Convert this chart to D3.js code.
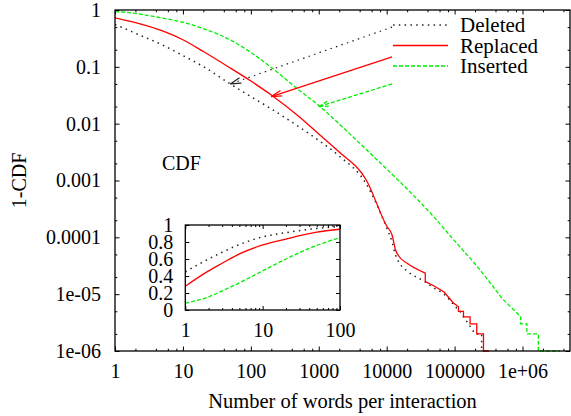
<!DOCTYPE html>
<html>
<head>
<meta charset="utf-8">
<script src="https://cdn.jsdelivr.net/npm/d3@7"></script>
<style>
  body { margin: 0; background: #fff; }
  svg { display: block; }
  text { font-family: "Liberation Serif", "Times New Roman", serif; font-size: 20px; fill: #000; }
</style>
</head>
<body>
<svg id="chart" width="571" height="416"></svg>
<script>
// 1-CDF, main plot: smooth part, then the stepped tail
const deletedX = [1, 2, 5, 10, 20, 50, 100, 200, 500, 1000, 2000, 5000, 10000, 12000, 13500, 15000,
    20000, 37000, 50000, 70000, 100000];
const deletedY = [0.556, 0.39, 0.242, 0.158, 0.101, 0.0499, 0.0301, 0.0182, 0.00895, 0.00506, 0.0027,
    8.7e-4, 1.46e-4, 8.3e-5, 4.9e-5, 3.7e-5, 2.56e-5, 1.64e-5, 1.28e-5, 1.0e-5, 6.2e-6];
const deletedTailX = [120000, 135000, 160000, 200000, 250000, 250000];
const deletedTailY = [5e-6, 4e-6, 3e-6, 2e-6, 2e-6, 1e-6];

const replacedX = [1, 2, 5, 10, 20, 50, 100, 200, 500, 1000, 2000, 5000, 10000, 12000, 13500, 15000,
    20000, 37000];
const replacedY = [0.73, 0.60, 0.43, 0.30, 0.186, 0.095, 0.0563, 0.0319, 0.0136, 0.00658, 0.00317,
    0.00102, 1.58e-4, 1.1e-4, 6e-5, 4.7e-5, 3.5e-5, 2.35e-5];
const replacedTailX = [37000, 50000, 70000, 96000, 114000, 114000, 135000, 135000, 169000, 169000,
    212000, 212000, 266000, 266000, 320000];
const replacedTailY = [1.66e-5, 1.39e-5, 1.09e-5, 7e-6, 6e-6, 5e-6, 5e-6, 4e-6, 4e-6, 3e-6,
    3e-6, 2e-6, 2e-6, 1e-6, 1e-6];

const insertedX = [1, 2, 5, 10, 20, 50, 100, 200, 500, 1000, 2000, 5000, 10000, 20000, 50000,
    100000, 200000, 500000];
const insertedY = [0.945, 0.87, 0.72, 0.61, 0.47, 0.297, 0.179, 0.0973, 0.0399, 0.0209, 0.00986,
    0.00351, 0.00159, 7.1e-4, 2.25e-4, 8.65e-5, 3.4e-5, 8.4e-6];
const insertedTailX = [780000, 940000, 940000, 1160000, 1160000, 1710000, 1710000, 3600000];
const insertedTailY = [5e-6, 4e-6, 3e-6, 3e-6, 2e-6, 2e-6, 1e-6, 1e-6];

// CDF, inset
const insetX = [1, 2, 3, 5, 10, 20, 50, 100];
const insetDeleted = [0.45, 0.60, 0.68, 0.77, 0.86, 0.91, 0.96, 0.98];
const insetReplaced = [0.28, 0.46, 0.55, 0.66, 0.765, 0.835, 0.915, 0.95];
const insetInserted = [0.08, 0.155, 0.225, 0.32, 0.46, 0.60, 0.76, 0.85];

// tick labels
const xTicks = [1, 10, 100, 1000, 10000, 100000, 1000000];
const xTickLabels = ['1', '10', '100', '1000', '10000', '100000', '1e+06'];
const yTicks = [1e-6, 1e-5, 1e-4, 1e-3, 1e-2, 1e-1, 1];
const yTickLabels = ['1e-06', '1e-05', '0.0001', '0.001', '0.01', '0.1', '1'];
const insetXTicks = [1, 10, 100];
const insetYTicks = [0, 0.2, 0.4, 0.6, 0.8, 1];
const insetYTickLabels = ['0', '0.2', '0.4', '0.6', '0.8', '1'];

// arrows from the legend to the curves (data coords)
const arrowFrom = [[12000, 0.5], [12000, 0.15], [12000, 0.05]];
const arrowTo = [[50, 0.05], [200, 0.03], [1000, 0.02]];

const seriesNames = ['Deleted', 'Replaced', 'Inserted'];

const styles = [
    { color: '#222', width: 1.5, dash: '1.5,4.3' },
    { color: '#ff0000', width: 1.3, dash: null },
    { color: '#00ee00', width: 1.3, dash: '4,2' }
];

const svg = d3.select('#chart');

// main plot frame
const P = { left: 115, right: 570, top: 10, bottom: 351 };
const x = d3.scaleLog().domain([1, 5e6]).range([P.left, P.right]);
const y = d3.scaleLog().domain([1e-6, 1]).range([P.bottom, P.top]);

const minorOf = (lo, hi, mults) => {
    const out = [];
    for (let d = lo; d < hi; d *= 10) {
        mults.forEach(m => { if (d * m <= hi) out.push(d * m); });
    }
    return out;
};
const xMinor = minorOf(1, 5e6, [2, 4, 6, 8]);
const yMinor = minorOf(1e-6, 1, [2, 5]);

const styleAxis = g => {
    g.select('.domain').remove();
    g.selectAll('line').attr('stroke', '#000').attr('stroke-width', 1);
    g.selectAll('text').attr('font-family', '"Liberation Serif", serif').attr('font-size', 20);
};

// ticks, all four sides, pointing inward
svg.append('g').attr('transform', `translate(0,${P.bottom})`)
    .call(d3.axisBottom(x).tickValues(xTicks).tickFormat((d, i) => xTickLabels[i])
        .tickSizeInner(-4.5).tickSizeOuter(0).tickPadding(12.8))
    .call(styleAxis);
svg.append('g').attr('transform', `translate(0,${P.bottom})`)
    .call(d3.axisBottom(x).tickValues(xMinor).tickFormat('').tickSizeInner(-2.3).tickSizeOuter(0))
    .call(styleAxis);
svg.append('g').attr('transform', `translate(0,${P.top})`)
    .call(d3.axisTop(x).tickValues(xTicks).tickFormat('').tickSizeInner(-4.5).tickSizeOuter(0))
    .call(styleAxis);
svg.append('g').attr('transform', `translate(0,${P.top})`)
    .call(d3.axisTop(x).tickValues(xMinor).tickFormat('').tickSizeInner(-2.3).tickSizeOuter(0))
    .call(styleAxis);
svg.append('g').attr('transform', `translate(${P.left},0)`)
    .call(d3.axisLeft(y).tickValues(yTicks).tickFormat((d, i) => yTickLabels[i])
        .tickSizeInner(-4.5).tickSizeOuter(0).tickPadding(14))
    .call(styleAxis);
svg.append('g').attr('transform', `translate(${P.left},0)`)
    .call(d3.axisLeft(y).tickValues(yMinor).tickFormat('').tickSizeInner(-2.3).tickSizeOuter(0))
    .call(styleAxis);
svg.append('g').attr('transform', `translate(${P.right},0)`)
    .call(d3.axisRight(y).tickValues(yTicks).tickFormat('').tickSizeInner(-4.5).tickSizeOuter(0))
    .call(styleAxis);
svg.append('g').attr('transform', `translate(${P.right},0)`)
    .call(d3.axisRight(y).tickValues(yMinor).tickFormat('').tickSizeInner(-2.3).tickSizeOuter(0))
    .call(styleAxis);

svg.append('clipPath').attr('id', 'clipMain')
    .append('rect').attr('x', P.left).attr('y', P.top - 1)
    .attr('width', P.right - P.left).attr('height', P.bottom - P.top + 2);

// smooth part through monotone curve, tail as straight steps, one path
const smoothLine = d3.line().x(d => x(d[0])).y(d => y(d[1])).curve(d3.curveMonotoneX);
const stepLine = d3.line().x(d => x(d[0])).y(d => y(d[1]));
const mainSeries = [
    [d3.zip(deletedX, deletedY), d3.zip(deletedTailX, deletedTailY)],
    [d3.zip(replacedX, replacedY), d3.zip(replacedTailX, replacedTailY)],
    [d3.zip(insertedX, insertedY), d3.zip(insertedTailX, insertedTailY)]
];

const curves = svg.append('g').attr('clip-path', 'url(#clipMain)');
mainSeries.forEach(([smooth, tail], i) => {
    const d = smoothLine(smooth) + stepLine(tail).replace(/^M/, 'L');
    curves.append('path')
        .attr('d', d)
        .attr('fill', 'none')
        .attr('stroke', styles[i].color)
        .attr('stroke-width', styles[i].width)
        .attr('stroke-dasharray', styles[i].dash);
});

// arrows
arrowFrom.forEach((from, i) => {
    const x0 = x(from[0]), y0 = y(from[1]);
    const x1 = x(arrowTo[i][0]), y1 = y(arrowTo[i][1]);
    const s = styles[i];
    const g = svg.append('g')
        .attr('fill', 'none')
        .attr('stroke', s.color)
        .attr('stroke-width', i === 0 ? 1.2 : s.width);
    g.append('line')
        .attr('x1', x0).attr('y1', y0).attr('x2', x1).attr('y2', y1)
        .attr('stroke-dasharray', s.dash);
    const ang = Math.atan2(y0 - y1, x0 - x1);
    const len = 11, spread = 15 * Math.PI / 180;
    [-spread, spread].forEach(a => {
        g.append('line')
            .attr('x1', x1).attr('y1', y1)
            .attr('x2', x1 + len * Math.cos(ang + a))
            .attr('y2', y1 + len * Math.sin(ang + a))
            .attr('stroke-dasharray', i === 2 ? s.dash : null);
    });
});

// border
svg.append('rect')
    .attr('x', P.left).attr('y', P.top)
    .attr('width', P.right - P.left).attr('height', P.bottom - P.top)
    .attr('fill', 'none').attr('stroke', '#000').attr('stroke-width', 1.3);

// legend
const legendY = [25, 45.5, 66];
const legendBase = [32, 53, 73];
seriesNames.forEach((name, i) => {
    svg.append('line')
        .attr('x1', 393).attr('x2', 448)
        .attr('y1', legendY[i]).attr('y2', legendY[i])
        .attr('stroke', styles[i].color)
        .attr('stroke-width', styles[i].width)
        .attr('stroke-dasharray', styles[i].dash);
    svg.append('text')
        .attr('x', 460).attr('y', legendBase[i])
        .style('font-size', '21px')
        .text(name);
});

svg.append('text').attr('x', 162).attr('y', 170).text('CDF');

// axis titles
svg.append('text')
    .attr('x', (P.left + P.right) / 2).attr('y', 408)
    .attr('text-anchor', 'middle')
    .style('font-size', '20.5px')
    .text('Number of words per interaction');
svg.append('text')
    .attr('transform', `translate(26,${(P.top + P.bottom) / 2}) rotate(-90)`)
    .attr('text-anchor', 'middle')
    .text('1-CDF');

// inset
const I = { left: 185.3, right: 340, top: 225, bottom: 310 };
const ix = d3.scaleLog().domain([1, 100]).range([I.left, I.right]);
const iy = d3.scaleLinear().domain([0, 1]).range([I.bottom, I.top]);
const ixMinor = minorOf(1, 100, [2, 3, 4, 5, 6, 7, 8, 9]);

svg.append('rect')
    .attr('x', I.left).attr('y', I.top)
    .attr('width', I.right - I.left).attr('height', I.bottom - I.top)
    .attr('fill', '#fff');

svg.append('g').attr('transform', `translate(0,${I.bottom})`)
    .call(d3.axisBottom(ix).tickValues(insetXTicks).tickFormat(d3.format('d'))
        .tickSizeInner(-4).tickSizeOuter(0).tickPadding(13))
    .call(styleAxis);
svg.append('g').attr('transform', `translate(0,${I.bottom})`)
    .call(d3.axisBottom(ix).tickValues(ixMinor).tickFormat('').tickSizeInner(-2).tickSizeOuter(0))
    .call(styleAxis);
svg.append('g').attr('transform', `translate(0,${I.top})`)
    .call(d3.axisTop(ix).tickValues(insetXTicks).tickFormat('').tickSizeInner(-4).tickSizeOuter(0))
    .call(styleAxis);
svg.append('g').attr('transform', `translate(0,${I.top})`)
    .call(d3.axisTop(ix).tickValues(ixMinor).tickFormat('').tickSizeInner(-2).tickSizeOuter(0))
    .call(styleAxis);
svg.append('g').attr('transform', `translate(${I.left},0)`)
    .call(d3.axisLeft(iy).tickValues(insetYTicks).tickFormat((d, i) => insetYTickLabels[i])
        .tickSizeInner(-4).tickSizeOuter(0).tickPadding(12))
    .call(styleAxis);
svg.append('g').attr('transform', `translate(${I.right},0)`)
    .call(d3.axisRight(iy).tickValues(insetYTicks).tickFormat('').tickSizeInner(-4).tickSizeOuter(0))
    .call(styleAxis);

const insetLine = d3.line().x(d => ix(d[0])).y(d => iy(d[1])).curve(d3.curveMonotoneX);
[insetDeleted, insetReplaced, insetInserted].forEach((vals, i) => {
    svg.append('path')
        .attr('d', insetLine(d3.zip(insetX, vals)))
        .attr('fill', 'none')
        .attr('stroke', styles[i].color)
        .attr('stroke-width', styles[i].width)
        .attr('stroke-dasharray', styles[i].dash);
});

svg.append('rect')
    .attr('x', I.left).attr('y', I.top)
    .attr('width', I.right - I.left).attr('height', I.bottom - I.top)
    .attr('fill', 'none').attr('stroke', '#000').attr('stroke-width', 1.3);
</script>
</body>
</html>
